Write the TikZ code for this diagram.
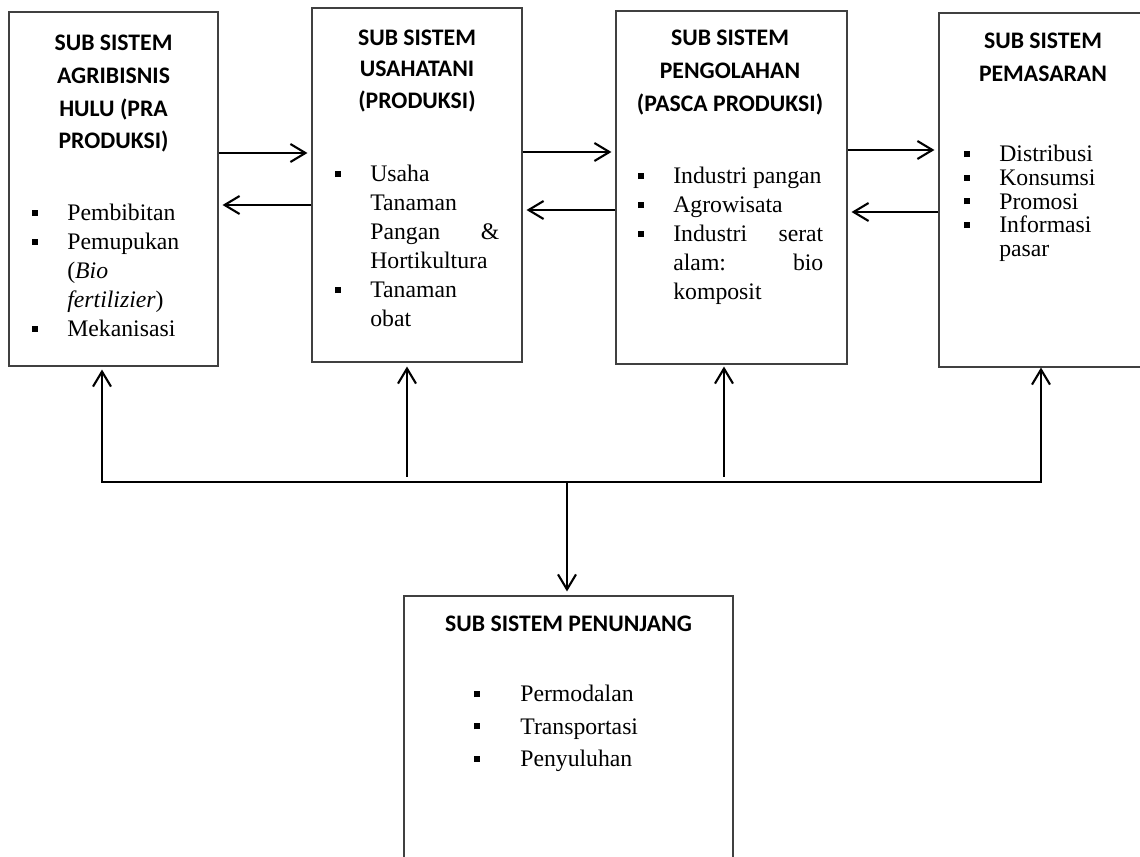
\documentclass[tikz,border=0pt]{standalone}
\usepackage{fontspec}
\setmainfont{Liberation Serif}
\newfontfamily\hdrfont{Carlito}
\usetikzlibrary{positioning, arrows.meta, calc, fit}

\begin{document}
\begin{tikzpicture}[
  x=0.02cm, y=-0.02cm,
  >={Straight Barb[length=0.3cm, width=0.36cm]},
  box/.style = {draw=black!75, line width=0.6pt, inner sep=0pt},
  hdr/.style = {font=\hdrfont\bfseries\fontsize{13.5}{18.7}\selectfont, align=center, anchor=north, inner sep=0pt},
  lst/.style = {font=\fontsize{13.5}{16.5}\selectfont, align=left, anchor=north west, inner sep=0pt},
  arr/.style = {line width=1.2pt, ->},
]
% bullet line, continuation line, spread line
\newcommand{\sqbul}{\raisebox{0.2em}{\rule{0.12cm}{0.12cm}}}
\newcommand{\bitem}[2][0.7cm]{\makebox[#1][l]{\sqbul}#2}
\newcommand{\citem}[1]{\hspace*{0.7cm}#1}
\newcommand{\jitem}[3]{\hspace*{0.7cm}\makebox[#1][s]{#2\hfill #3}}
\useasboundingbox (0,0) rectangle (1140,857);
\node[box, fit={(9,12) (218,366)}] (hulu) {};
\node[box, fit={(312,8) (522,362)}] (usaha) {};
\node[box, fit={(616,11) (847,364)}] (olah) {};
\node[box, fit={(939,13) (1160,367)}] (pasar) {};
\node[box, fit={(404,596) (733,880)}] (tunjang) {};
\node[hdr] (huluT) at (113.5,34.4) {SUB SISTEM\\AGRIBISNIS\\HULU (PRA\\PRODUKSI)};
\node[hdr, font=\hdrfont\bfseries\fontsize{13.5}{17.9}\selectfont] (usahaT) at (417,29.5) {SUB SISTEM\\USAHATANI\\(PRODUKSI)};
\node[hdr] (olahT) at (730,29.5) {SUB SISTEM\\PENGOLAHAN\\(PASCA PRODUKSI)};
\node[hdr] (pasarT) at (1043,32.5) {SUB SISTEM\\PEMASARAN};
\node[hdr] (tunjangT) at (568.5,615.5) {SUB SISTEM PENUNJANG};
\node[lst] (huluL) at (32,203.5) {\bitem{Pembibitan}\\\bitem{Pemupukan}\\\citem{(\textit{Bio}}\\\citem{\textit{fertilizier})}\\\bitem{Mekanisasi}};
\node[lst] (usahaL) at (335,165) {\bitem{Usaha}\\\citem{Tanaman}\\\jitem{2.58cm}{Pangan}{\&}\\\citem{Hortikultura}\\\bitem{Tanaman}\\\citem{obat}};
\node[lst] (olahL) at (638,167) {\bitem{Industri pangan}\\\bitem{Agrowisata}\\\bitem{\makebox[3.0cm][s]{Industri\hfill serat}}\\\jitem{3.0cm}{alam:}{bio}\\\citem{komposit}};
\node[lst, font=\fontsize{13.5}{13.5}\selectfont] (pasarL) at (964,145) {\bitem{Distribusi}\\\bitem{Konsumsi}\\\bitem{Promosi}\\\bitem{Informasi}\\\citem{pasar}};
\node[lst, font=\fontsize{13.5}{18.4}\selectfont] (tunjangL) at (474,685) {\bitem[0.92cm]{Permodalan}\\\bitem[0.92cm]{Transportasi}\\\bitem[0.92cm]{Penyuluhan}};
% flows between the sub systems
\draw[arr, shorten >=0.08cm] (hulu.east |- 0,153) -- (usaha.west |- 0,153);
\draw[arr, shorten >=0.08cm] (usaha.west |- 0,205) -- (hulu.east |- 0,205);
\draw[arr, shorten >=0.08cm] (usaha.east |- 0,152) -- (olah.west |- 0,152);
\draw[arr, shorten >=0.08cm] (olah.west |- 0,210) -- (usaha.east |- 0,210);
\draw[arr, shorten >=0.08cm] (olah.east |- 0,150) -- (pasar.west |- 0,150);
\draw[arr, shorten >=0.08cm] (pasar.west |- 0,212) -- (olah.east |- 0,212);
% support bus
\coordinate (jn) at (567,482);
\coordinate (usahaB) at (407,477);
\coordinate (olahB) at (724,477);
\draw[line width=1.2pt, <->, shorten <=0.06cm] (hulu.south -| 102,0) |- (jn) -| (pasar.south -| 1041,0);
\draw[arr, shorten >=0.08cm] (usahaB) -- (usaha.south -| usahaB);
\draw[arr, shorten >=0.04cm] (olahB) -- (olah.south -| olahB);
\draw[arr, shorten >=0.08cm] (jn) -- (tunjang.north -| jn);
\end{tikzpicture}
\end{document}
